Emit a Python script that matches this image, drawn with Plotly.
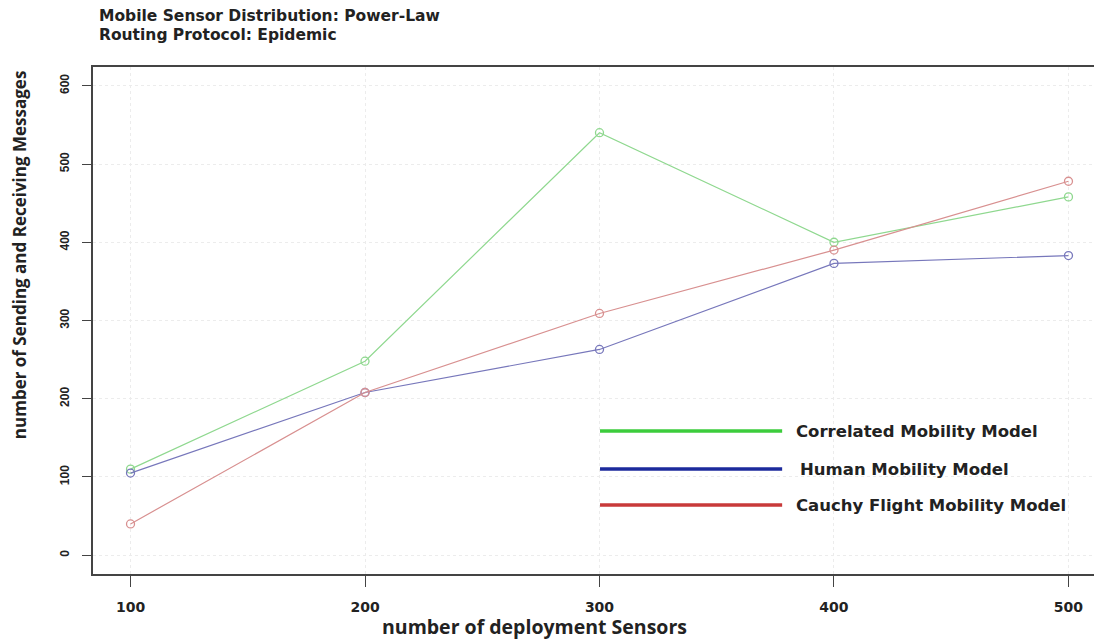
import plotly.graph_objects as go

sensors = [100, 200, 300, 400, 500]
correlated = [110, 248, 540, 400, 458]
human = [105, 208, 263, 373, 383]
cauchy = [40, 208, 309, 390, 478]

series_names = ["Correlated Mobility Model", "Human Mobility Model", "Cauchy Flight Mobility Model"]
line_colors = ["#8fd88f", "#7777bb", "#d89090"]
legend_colors = ["#3ccc3c", "#1c2a9c", "#c83a3a"]
x_ticks = [100, 200, 300, 400, 500]
y_ticks = [0, 100, 200, 300, 400, 500, 600]

fig = go.Figure()
for name, vals, col in zip(series_names, [correlated, human, cauchy], line_colors):
    fig.add_trace(go.Scatter(
        x=sensors, y=vals, mode="lines+markers", name=name,
        line=dict(color=col, width=1.2),
        marker=dict(symbol="circle-open", size=8, color=col, line=dict(width=1.3)),
        showlegend=False,
    ))

# custom legend (long thick lines + bold labels)
leg_y = [0.282, 0.207, 0.136]
for name, col, yy in zip(series_names, legend_colors, leg_y):
    fig.add_shape(type="line", xref="paper", yref="paper", x0=0.5025, x1=0.683, y0=yy, y1=yy,
                  line=dict(color=col, width=3.5))
    fig.add_annotation(xref="paper", yref="paper", x=0.695 + (0.0035 if name.startswith("Human") else 0), y=yy,
                       text="<b>" + name + "</b>", showarrow=False, xanchor="left", yanchor="middle",
                       font=dict(family="DejaVu Sans", size=16.5, color="#222"))

fig.add_annotation(xref="paper", yref="paper", x=0.004, y=1.1006, xanchor="left", yanchor="middle",
                   text="<b>Mobile Sensor Distribution: Power-Law</b>", showarrow=False,
                   font=dict(family="DejaVu Sans", size=15.5, color="#222"))
fig.add_annotation(xref="paper", yref="paper", x=0.004, y=1.0631, xanchor="left", yanchor="middle",
                   text="<b>Routing Protocol: Epidemic</b>", showarrow=False,
                   font=dict(family="DejaVu Sans", size=15.5, color="#222"))

# axis titles
fig.add_annotation(xref="paper", yref="paper", x=-0.0733, y=0.629, xanchor="center", yanchor="middle",
                   text="<b>number of Sending and Receiving Messages</b>", showarrow=False, textangle=-90,
                   font=dict(family="Open Sans", size=17, color="#222"))
fig.add_annotation(xref="paper", yref="paper", x=0.438, y=-0.1045, xanchor="center", yanchor="middle",
                   text="<b>number of deployment Sensors</b>", showarrow=False,
                   font=dict(family="Open Sans", size=19.5, color="#222"))

# page body has an 8px default margin, so the figure is sized to fill the remaining window
fig.update_layout(
    width=1094, height=633,
    margin=dict(l=85, r=0, t=59, b=67),
    paper_bgcolor="white", plot_bgcolor="white",
    font=dict(family="Liberation Sans", color="#222"),
)
fig.update_xaxes(
    range=[84, 514.3], tickvals=x_ticks, ticktext=[str(v) for v in x_ticks],
    showline=True, linecolor="#444", linewidth=1.5, mirror=True,
    ticks="outside", ticklen=11, tickcolor="#444", ticklabelstandoff=8,
    showgrid=True, gridcolor="#ececec", griddash="dot", zeroline=False,
    tickfont=dict(size=14, family="DejaVu Sans", weight="bold"),
    automargin=False,
)
fig.update_yaxes(
    range=[-24, 624], tickvals=y_ticks, ticktext=[str(v) for v in y_ticks], tickangle=-90,
    showline=True, linecolor="#444", linewidth=1.5, mirror=False,
    ticks="outside", ticklen=9, tickcolor="#444", ticklabelstandoff=8,
    showgrid=True, gridcolor="#ececec", griddash="dot", zeroline=False,
    tickfont=dict(size=12, family="Liberation Sans", weight="bold"),
    automargin=False,
)

fig.write_html("out.html")
